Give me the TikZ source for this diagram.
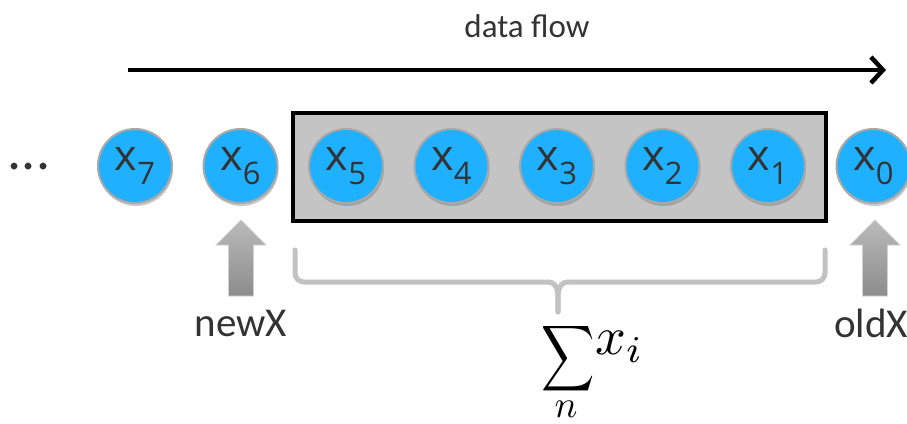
\documentclass[tikz,border=0pt]{standalone}
\usepackage{amsmath}
\usepackage{fontspec}
\setmainfont{Carlito}
\newfontfamily\cellfont{Open Sans}
\usetikzlibrary{arrows.meta,shadows,calc}

\definecolor{ballblue}{HTML}{1FB0FF}
\definecolor{ballrim}{HTML}{A8A8A8}
\definecolor{inkgray}{HTML}{333333}
\definecolor{windowfill}{HTML}{C4C4C4}
\definecolor{bracegray}{HTML}{C2C2C2}
\definecolor{arrowtop}{HTML}{BABABA}
\definecolor{arrowbot}{HTML}{8C8C8C}

% a sample x_k in a round cell
\newcommand{\samplelabel}[1]{%
  {\cellfont\fontsize{43}{43}\selectfont x\raisebox{-14pt}{\fontsize{31}{31}\selectfont #1}}}

\tikzset{
  sample/.style={circle, draw=ballrim, line width=2pt, fill=ballblue,
    minimum size=74pt, inner sep=0pt, text=inkgray,
    drop shadow={shadow xshift=1pt, shadow yshift=-3pt, opacity=0.35, fill=black!60}},
  window/.style={draw=black, line width=4pt, fill=windowfill,
    drop shadow={shadow xshift=2pt, shadow yshift=-2pt, opacity=0.3, fill=black!60}},
  caption/.style={text=inkgray, font=\fontsize{41}{41}\selectfont},
  flow/.style={line width=4.5pt, -{Straight Barb[length=12pt, width=26pt, line width=4.5pt]}},
  uparrow/.style={top color=arrowtop, bottom color=arrowbot, draw=black!18, line width=0.8pt},
  bracepath/.style={draw=bracegray, line width=5pt, line cap=round, line join=round},
  mathpart/.style={inner sep=0pt}
}

\begin{document}
\begin{tikzpicture}[x=1pt, y=-1pt]
  \useasboundingbox (0,0) rectangle (907,423);

  % data flow direction
  \node[text=inkgray, font=\fontsize{33}{33}\selectfont] (flowlabel) at (527,26) {data flow};
  \coordinate (flowstart) at (128,70);
  \coordinate (flowend) at (886,70);
  \draw[flow] (flowstart) -- (flowend);

  % summation window
  \path[window] (293,113) rectangle (826,221);

  % the samples
  \foreach \k in {7,...,0} {
    \node[sample] (x\k) at ({135+105.5*(7-\k)},166) {\samplelabel{\k}};
  }

  % leading dots
  \node[text=inkgray, font=\fontsize{56}{56}\selectfont] (dots) at (29,167) {...};

  % insertion / removal arrows
  \coordinate (newtip) at (241,220);
  \coordinate (oldtip) at (875,220);
  \foreach \t in {newtip,oldtip} {
    \path[uparrow] (\t) -- ++(25,25) -- ++(-12.5,0) -- ++(0,51) -- ++(-25,0)
      -- ++(0,-51) -- ++(-12.5,0) -- cycle;
  }
  \node[caption] (newX) at (241,323) {newX};
  \node[caption] (oldX) at (871,323) {oldX};

  % brace under the window
  \coordinate (bl) at (295,250);
  \coordinate (br) at (825,250);
  \coordinate (bc) at (558,312);
  \draw[bracepath, rounded corners=9pt] (bl) -- (295,282) -- (548,282);
  \draw[bracepath, rounded corners=9pt] (br) -- (825,282) -- (568,282);
  \draw[bracepath] (548,282) to[out=0, in=90] (bc);
  \draw[bracepath] (568,282) to[out=180, in=90] (bc);

  % sum label: summation sign, its limit, and the summand
  \node[mathpart, xscale=3.7, yscale=4.6] (sum) at (568,359) {$\displaystyle\sum$};
  \node[mathpart, scale=3.8] (limit) at (566,409) {$n$};
  \node[mathpart, scale=5.4, anchor=west] (term) at (594,347) {$x_i$};
\end{tikzpicture}
\end{document}
